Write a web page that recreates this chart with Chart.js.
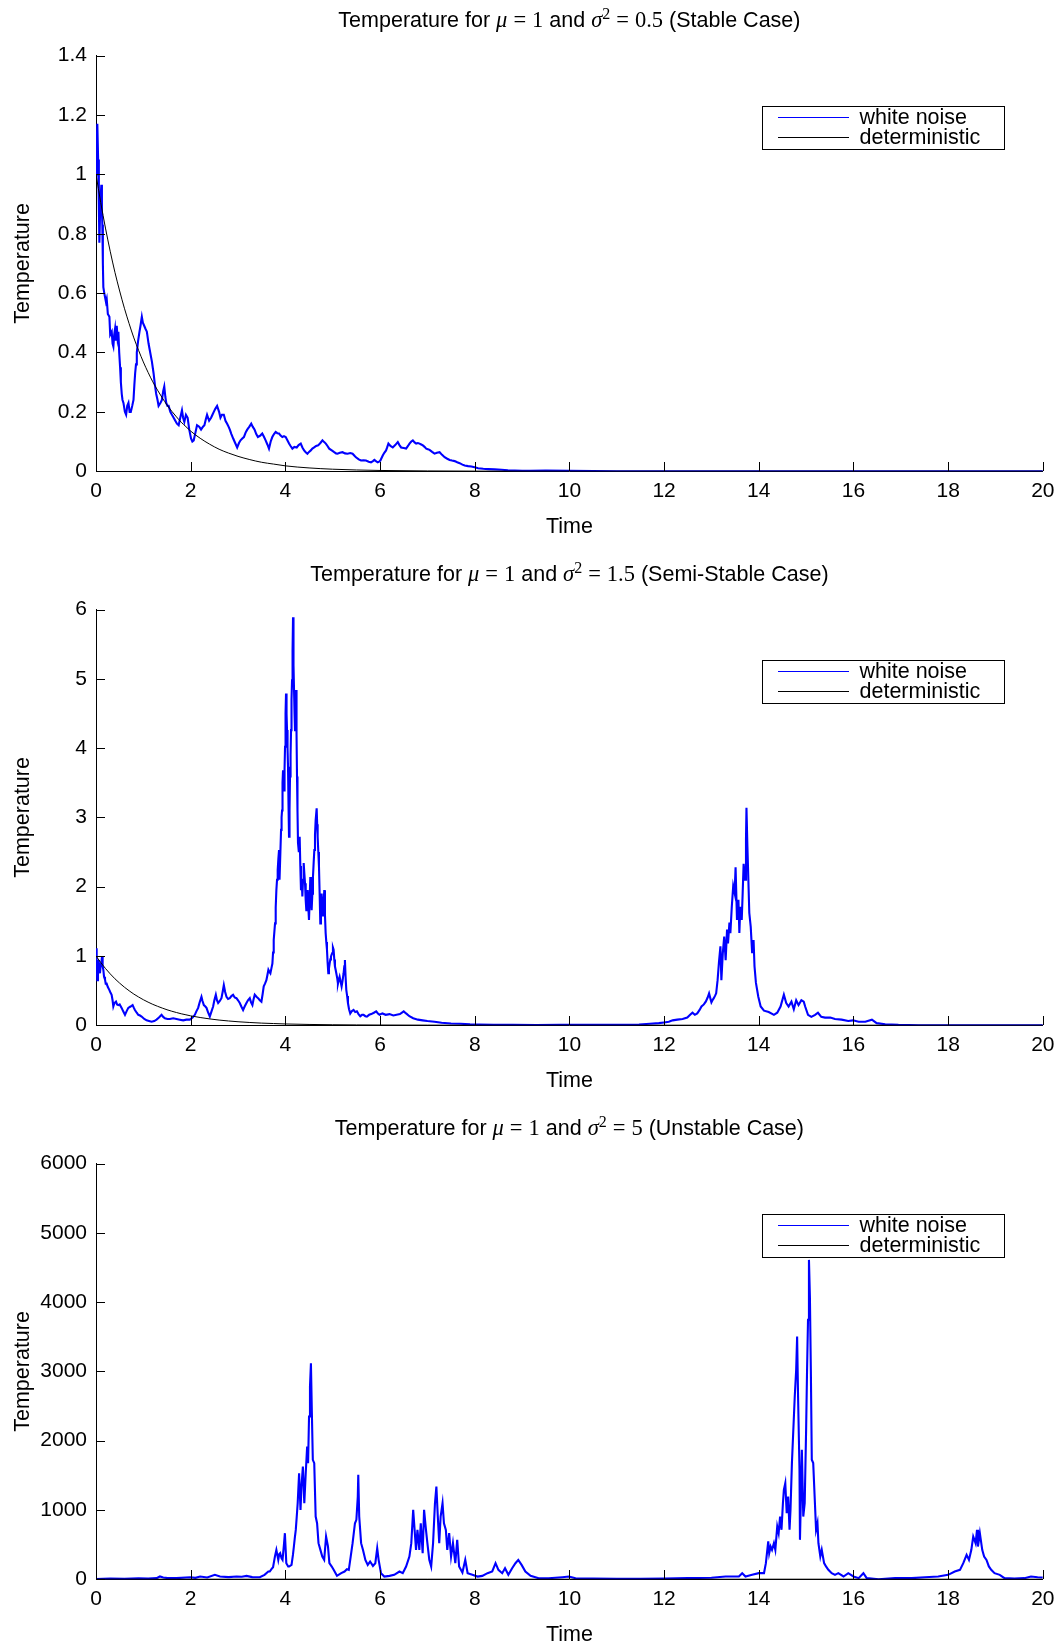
<!DOCTYPE html>
<html>
<head>
<meta charset="utf-8">
<script src="https://cdn.jsdelivr.net/npm/chart.js@4.4.1/dist/chart.umd.min.js"></script>
<style>
  html, body { margin: 0; padding: 0; background: #fff; }
  #page { position: relative; width: 1062px; height: 1645px; overflow: hidden; background: #fff; }
  .panel { position: absolute; left: 0; width: 1062px; height: 554px; }
  .panel canvas { display: block; }
</style>
</head>
<body>
<div id="page">
  <div class="panel" style="top:0px"><canvas id="stable" width="1062" height="554"></canvas></div>
  <div class="panel" style="top:554px"><canvas id="semi" width="1062" height="554"></canvas></div>
  <div class="panel" style="top:1108px"><canvas id="unstable" width="1062" height="554"></canvas></div>
</div>
<script>
// Shared axis ticks
const xTicks = [0, 2, 4, 6, 8, 10, 12, 14, 16, 18, 20];
const yTicksStable = [0, 0.2, 0.4, 0.6, 0.8, 1, 1.2, 1.4];
const yTicksSemi = [0, 1, 2, 3, 4, 5, 6];
const yTicksUnstable = [0, 1000, 2000, 3000, 4000, 5000, 6000];

const seriesLabels = ['white noise', 'deterministic'];
const xAxisLabel = 'Time';
const yAxisLabel = 'Temperature';

// Deterministic solution (same for all three panels)
const detTime = [0, 0.1, 0.2, 0.3, 0.4, 0.5, 0.6, 0.7, 0.8, 0.9, 1.0, 1.1, 1.2, 1.3, 1.4, 1.5, 1.6, 1.7, 1.8, 1.9,
  2.0, 2.2, 2.4, 2.6, 2.8, 3.0, 3.25, 3.5, 3.75, 4.0, 4.5, 5.0, 5.5, 6.0, 7.0, 8.0, 10.0, 20.0];
const detTemp = [1, 0.905, 0.819, 0.741, 0.670, 0.607, 0.549, 0.497, 0.449, 0.407, 0.368, 0.333, 0.301, 0.273, 0.247, 0.223, 0.202, 0.183, 0.165, 0.150,
  0.135, 0.111, 0.091, 0.074, 0.061, 0.050, 0.039, 0.030, 0.024, 0.018, 0.011, 0.0067, 0.0041, 0.0025, 0.0009, 0.0003, 0.00005, 0];

// Stable case, sigma^2 = 0.5
const stableTime = [0, 0.015, 0.028, 0.045, 0.06, 0.071, 0.09, 0.113, 0.125, 0.134, 0.145, 0.155, 0.175, 0.19, 0.21, 0.226, 0.25, 0.283, 0.3, 0.332,
  0.35, 0.367, 0.385, 0.403, 0.42, 0.438, 0.455, 0.473, 0.49, 0.509, 0.525, 0.544, 0.56, 0.58, 0.61, 0.636, 0.66, 0.686, 0.71, 0.735,
  0.765, 0.792, 0.81, 0.827, 0.845, 0.862, 0.89, 0.919, 0.94, 0.968, 0.99, 1.018, 1.045, 1.074, 1.11, 1.145, 1.18, 1.216, 1.245, 1.272,
  1.3, 1.322, 1.36, 1.392, 1.42, 1.442, 1.465, 1.484, 1.51, 1.534, 1.57, 1.604, 1.64, 1.675, 1.71, 1.746, 1.78, 1.816, 1.84, 1.866,
  1.9, 1.936, 1.97, 2.007, 2.035, 2.064, 2.1, 2.134, 2.18, 2.219, 2.26, 2.29, 2.32, 2.346, 2.39, 2.431, 2.46, 2.488, 2.52, 2.558,
  2.6, 2.629, 2.66, 2.7, 2.735, 2.77, 2.8, 2.827, 2.86, 2.898, 2.94, 2.982, 3.02, 3.053, 3.09, 3.124, 3.16, 3.194, 3.24, 3.279,
  3.31, 3.35, 3.385, 3.42, 3.47, 3.512, 3.55, 3.583, 3.62, 3.654, 3.69, 3.724, 3.76, 3.795, 3.83, 3.866, 3.9, 3.936, 3.97, 4.007,
  4.04, 4.078, 4.11, 4.148, 4.19, 4.24, 4.28, 4.325, 4.36, 4.396, 4.43, 4.466, 4.5, 4.537, 4.57, 4.608, 4.65, 4.693, 4.74, 4.784,
  4.82, 4.855, 4.89, 4.926, 4.98, 5.032, 5.07, 5.102, 5.15, 5.208, 5.26, 5.314, 5.37, 5.42, 5.46, 5.491, 5.55, 5.597, 5.65, 5.703,
  5.76, 5.809, 5.85, 5.88, 5.92, 5.951, 5.98, 6.007, 6.057, 6.09, 6.127, 6.15, 6.177, 6.22, 6.269, 6.32, 6.375, 6.41, 6.445, 6.5,
  6.551, 6.59, 6.622, 6.66, 6.693, 6.73, 6.763, 6.8, 6.834, 6.87, 6.905, 6.94, 6.975, 7.01, 7.046, 7.1, 7.152, 7.2, 7.258, 7.31,
  7.364, 7.42, 7.47, 7.52, 7.576, 7.63, 7.682, 7.74, 7.788, 7.86, 7.929, 8.0, 8.071, 8.18, 8.283, 8.42, 8.565, 8.7, 8.848, 9.0,
  9.166, 9.5, 10.0, 10.5, 11.0, 20];
const stableTemp = [1.0, 1.1, 1.17, 1.05, 0.9, 0.77, 0.9, 0.965, 0.88, 0.83, 0.7, 0.62, 0.6, 0.6, 0.57, 0.58, 0.53, 0.52, 0.46, 0.47,
  0.43, 0.42, 0.46, 0.48, 0.44, 0.49, 0.45, 0.47, 0.4, 0.35, 0.3, 0.26, 0.24, 0.23, 0.2, 0.19, 0.22, 0.23, 0.2, 0.2,
  0.22, 0.24, 0.29, 0.33, 0.36, 0.4, 0.44, 0.47, 0.49, 0.52, 0.5, 0.49, 0.48, 0.47, 0.43, 0.4, 0.37, 0.33, 0.29, 0.26,
  0.24, 0.22, 0.23, 0.24, 0.27, 0.285, 0.25, 0.23, 0.22, 0.22, 0.2, 0.19, 0.18, 0.17, 0.16, 0.155, 0.18, 0.205, 0.18, 0.166,
  0.19, 0.18, 0.14, 0.11, 0.1, 0.104, 0.13, 0.155, 0.15, 0.14, 0.15, 0.155, 0.175, 0.19, 0.17, 0.18, 0.19, 0.2, 0.21, 0.22,
  0.2, 0.18, 0.19, 0.19, 0.17, 0.16, 0.15, 0.14, 0.125, 0.11, 0.095, 0.08, 0.095, 0.104, 0.11, 0.115, 0.13, 0.14, 0.15, 0.16,
  0.15, 0.14, 0.125, 0.115, 0.12, 0.127, 0.115, 0.104, 0.09, 0.076, 0.1, 0.115, 0.125, 0.132, 0.128, 0.127, 0.12, 0.115, 0.118, 0.115,
  0.105, 0.093, 0.085, 0.076, 0.082, 0.08, 0.088, 0.093, 0.08, 0.07, 0.064, 0.059, 0.065, 0.07, 0.076, 0.08, 0.085, 0.087, 0.095, 0.104,
  0.098, 0.093, 0.085, 0.076, 0.07, 0.064, 0.06, 0.059, 0.062, 0.064, 0.06, 0.059, 0.061, 0.059, 0.052, 0.047, 0.04, 0.036, 0.037, 0.036,
  0.032, 0.03, 0.034, 0.038, 0.033, 0.03, 0.032, 0.036, 0.053, 0.062, 0.07, 0.08, 0.093, 0.085, 0.08, 0.088, 0.098, 0.088, 0.08, 0.078,
  0.076, 0.085, 0.093, 0.1, 0.104, 0.097, 0.093, 0.095, 0.093, 0.09, 0.087, 0.082, 0.076, 0.074, 0.072, 0.065, 0.059, 0.062, 0.064, 0.055,
  0.047, 0.042, 0.038, 0.036, 0.034, 0.03, 0.027, 0.022, 0.019, 0.017, 0.016, 0.013, 0.01, 0.008, 0.007, 0.006, 0.005, 0.003, 0.002, 0.0015,
  0.001, 0.002, 0.001, 0.0005, 0, 0];

// Semi-stable case, sigma^2 = 1.5
const semiTime = [0, 0.014, 0.028, 0.042, 0.056, 0.07, 0.084, 0.1, 0.113, 0.127, 0.14, 0.155, 0.17, 0.19, 0.205, 0.225, 0.25, 0.281, 0.3, 0.33,
  0.35, 0.366, 0.39, 0.422, 0.445, 0.471, 0.5, 0.541, 0.575, 0.612, 0.645, 0.682, 0.73, 0.773, 0.8, 0.822, 0.86, 0.893, 0.93, 0.963,
  1.02, 1.069, 1.12, 1.174, 1.23, 1.279, 1.33, 1.385, 1.42, 1.455, 1.51, 1.561, 1.63, 1.701, 1.77, 1.842, 1.91, 1.982, 2.04, 2.088,
  2.12, 2.158, 2.19, 2.228, 2.25, 2.278, 2.31, 2.334, 2.37, 2.404, 2.44, 2.474, 2.5, 2.531, 2.555, 2.58, 2.615, 2.65, 2.675, 2.7,
  2.728, 2.756, 2.79, 2.826, 2.86, 2.896, 2.93, 2.967, 3.0, 3.037, 3.07, 3.107, 3.14, 3.178, 3.21, 3.248, 3.275, 3.304, 3.33, 3.353,
  3.39, 3.424, 3.46, 3.494, 3.52, 3.543, 3.57, 3.599, 3.62, 3.642, 3.665, 3.684, 3.705, 3.726, 3.74, 3.754, 3.768, 3.782, 3.796, 3.81,
  3.824, 3.838, 3.852, 3.866, 3.873, 3.88, 3.895, 3.909, 3.92, 3.93, 3.94, 3.951, 3.962, 3.972, 3.983, 3.993, 4.004, 4.014, 4.025, 4.035,
  4.046, 4.056, 4.066, 4.077, 4.088, 4.098, 4.11, 4.12, 4.13, 4.141, 4.152, 4.162, 4.172, 4.183, 4.194, 4.204, 4.215, 4.225, 4.236, 4.246,
  4.256, 4.267, 4.285, 4.302, 4.316, 4.33, 4.345, 4.359, 4.373, 4.387, 4.4, 4.415, 4.43, 4.443, 4.457, 4.471, 4.485, 4.499, 4.513, 4.527,
  4.541, 4.555, 4.57, 4.583, 4.598, 4.612, 4.626, 4.64, 4.661, 4.672, 4.682, 4.696, 4.71, 4.724, 4.738, 4.752, 4.766, 4.78, 4.794, 4.808,
  4.822, 4.836, 4.851, 4.865, 4.879, 4.893, 4.907, 4.921, 4.935, 4.95, 4.963, 4.977, 4.991, 5.005, 5.019, 5.033, 5.047, 5.062, 5.076, 5.095,
  5.111, 5.13, 5.146, 5.17, 5.188, 5.21, 5.23, 5.245, 5.258, 5.272, 5.287, 5.305, 5.322, 5.345, 5.371, 5.4, 5.441, 5.475, 5.511, 5.545,
  5.582, 5.62, 5.652, 5.69, 5.722, 5.77, 5.814, 5.87, 5.919, 5.955, 5.989, 6.05, 6.12, 6.2, 6.28, 6.35, 6.42, 6.5, 6.55, 6.62,
  6.7, 6.8, 6.9, 7.0, 7.15, 7.3, 7.5, 7.7, 7.9, 8.1, 8.4, 8.8, 9.3, 9.8, 10.2, 10.7, 11.2, 11.47, 11.7, 11.89,
  12.0, 12.1, 12.18, 12.28, 12.39, 12.49, 12.55, 12.6, 12.65, 12.7, 12.75, 12.79, 12.84, 12.88, 12.92, 12.95, 12.98, 13.0, 13.03, 13.05,
  13.08, 13.1, 13.13, 13.16, 13.19, 13.21, 13.24, 13.27, 13.3, 13.33, 13.35, 13.38, 13.4, 13.43, 13.46, 13.49, 13.51, 13.54, 13.57, 13.59,
  13.61, 13.64, 13.66, 13.68, 13.71, 13.73, 13.74, 13.76, 13.78, 13.8, 13.83, 13.86, 13.89, 13.91, 13.94, 13.99, 14.04, 14.11, 14.21, 14.32,
  14.39, 14.46, 14.53, 14.58, 14.63, 14.69, 14.74, 14.79, 14.84, 14.9, 14.95, 14.98, 15.04, 15.11, 15.19, 15.25, 15.32, 15.4, 15.51, 15.61,
  15.75, 15.89, 15.99, 16.11, 16.25, 16.39, 16.49, 16.67, 16.95, 17.37, 20];
const semiTemp = [1.11, 0.85, 0.65, 0.8, 0.94, 0.82, 0.75, 0.88, 0.9, 0.99, 0.85, 0.8, 0.7, 0.66, 0.6, 0.6, 0.55, 0.51, 0.48, 0.44,
  0.36, 0.27, 0.32, 0.34, 0.3, 0.29, 0.3, 0.25, 0.2, 0.15, 0.2, 0.25, 0.27, 0.29, 0.25, 0.22, 0.18, 0.15, 0.14, 0.125,
  0.09, 0.07, 0.06, 0.05, 0.06, 0.08, 0.11, 0.15, 0.12, 0.1, 0.09, 0.09, 0.1, 0.09, 0.08, 0.07, 0.08, 0.08, 0.11, 0.15,
  0.2, 0.25, 0.33, 0.41, 0.35, 0.29, 0.27, 0.25, 0.18, 0.125, 0.2, 0.27, 0.36, 0.44, 0.36, 0.32, 0.35, 0.39, 0.48, 0.58,
  0.48, 0.41, 0.38, 0.39, 0.42, 0.44, 0.4, 0.39, 0.36, 0.32, 0.27, 0.22, 0.27, 0.32, 0.36, 0.39, 0.33, 0.29, 0.38, 0.44,
  0.41, 0.39, 0.36, 0.34, 0.45, 0.56, 0.6, 0.65, 0.72, 0.8, 0.77, 0.75, 0.82, 0.89, 1.05, 1.23, 1.35, 1.47, 1.7, 1.95,
  2.1, 2.24, 2.4, 2.53, 2.2, 2.1, 2.5, 2.82, 3.0, 3.1, 3.5, 3.68, 3.5, 3.39, 3.7, 4.02, 4.5, 4.79, 4.5, 4.26,
  4.0, 3.73, 3.2, 2.72, 3.1, 3.59, 3.9, 4.26, 4.7, 4.98, 5.4, 5.89, 5.2, 4.84, 4.5, 4.26, 4.6, 4.84, 4.2, 3.59,
  3.1, 2.63, 2.5, 2.72, 2.3, 1.95, 2.1, 1.86, 2.1, 2.34, 2.2, 2.05, 1.8, 1.66, 1.8, 1.95, 1.7, 1.52, 1.8, 2.14,
  1.9, 1.66, 1.9, 2.14, 2.35, 2.53, 2.75, 2.96, 3.13, 2.9, 2.72, 2.5, 2.29, 1.9, 1.47, 1.7, 1.9, 1.7, 1.57, 1.75,
  1.95, 1.6, 1.33, 1.2, 1.09, 0.9, 0.75, 0.82, 0.89, 0.95, 0.99, 1.02, 1.04, 1.12, 1.09, 0.95, 0.85, 0.8, 0.75, 0.68,
  0.6, 0.66, 0.7, 0.62, 0.56, 0.65, 0.75, 0.85, 0.94, 0.7, 0.51, 0.42, 0.32, 0.23, 0.17, 0.2, 0.22, 0.19, 0.2, 0.16,
  0.13, 0.15, 0.15, 0.13, 0.125, 0.15, 0.16, 0.18, 0.2, 0.17, 0.15, 0.17, 0.15, 0.16, 0.14, 0.15, 0.16, 0.2, 0.17, 0.13,
  0.1, 0.08, 0.07, 0.06, 0.05, 0.035, 0.025, 0.02, 0.012, 0.008, 0.005, 0.004, 0.003, 0.006, 0.004, 0.005, 0.005, 0.01, 0.02, 0.03,
  0.04, 0.05, 0.07, 0.08, 0.09, 0.11, 0.15, 0.18, 0.15, 0.17, 0.22, 0.27, 0.3, 0.34, 0.4, 0.46, 0.38, 0.33, 0.37, 0.39,
  0.43, 0.46, 0.65, 0.92, 1.14, 0.65, 1.04, 1.28, 0.94, 1.38, 1.18, 1.48, 1.33, 1.71, 2.01, 1.91, 2.28, 1.52, 1.81, 1.33,
  1.71, 1.52, 1.91, 2.33, 2.1, 2.68, 3.14, 2.58, 2.1, 1.62, 1.42, 1.04, 1.23, 0.85, 0.61, 0.41, 0.27, 0.21, 0.19, 0.15,
  0.18, 0.27, 0.44, 0.32, 0.27, 0.34, 0.23, 0.36, 0.29, 0.36, 0.34, 0.27, 0.15, 0.12, 0.15, 0.18, 0.12, 0.11, 0.11, 0.09,
  0.08, 0.06, 0.07, 0.05, 0.05, 0.08, 0.03, 0.014, 0.005, 0, 0];

// Unstable case, sigma^2 = 5
const unstableTime = [0, 0.3, 0.6, 0.9, 1.1, 1.28, 1.35, 1.42, 1.49, 1.7, 1.99, 2.1, 2.2, 2.35, 2.51, 2.62, 2.8, 2.97, 3.08, 3.18,
  3.3, 3.46, 3.56, 3.64, 3.67, 3.71, 3.74, 3.78, 3.81, 3.85, 3.87, 3.89, 3.92, 3.94, 3.97, 3.99, 4.02, 4.06, 4.08, 4.13,
  4.16, 4.18, 4.2, 4.22, 4.24, 4.26, 4.29, 4.32, 4.34, 4.37, 4.4, 4.43, 4.46, 4.48, 4.5, 4.52, 4.54, 4.56, 4.58, 4.61,
  4.64, 4.67, 4.7, 4.74, 4.78, 4.82, 4.86, 4.9, 4.93, 4.98, 5.02, 5.09, 5.18, 5.25, 5.3, 5.34, 5.38, 5.42, 5.47, 5.5,
  5.53, 5.54, 5.56, 5.6, 5.64, 5.69, 5.74, 5.79, 5.85, 5.9, 5.94, 5.97, 6.02, 6.09, 6.2, 6.3, 6.41, 6.48, 6.55, 6.62,
  6.66, 6.7, 6.73, 6.76, 6.79, 6.83, 6.86, 6.9, 6.93, 6.97, 7.0, 7.04, 7.08, 7.12, 7.16, 7.19, 7.22, 7.25, 7.28, 7.32,
  7.35, 7.39, 7.42, 7.46, 7.5, 7.54, 7.59, 7.63, 7.67, 7.74, 7.8, 7.85, 7.95, 8.06, 8.16, 8.27, 8.37, 8.44, 8.5, 8.58,
  8.64, 8.71, 8.79, 8.86, 8.92, 8.99, 9.07, 9.18, 9.35, 9.56, 9.85, 9.99, 10.13, 10.5, 11.0, 11.5, 12.0, 12.5, 13.0, 13.3,
  13.58, 13.65, 13.72, 13.86, 14.0, 14.11, 14.15, 14.2, 14.22, 14.25, 14.28, 14.32, 14.35, 14.39, 14.42, 14.45, 14.48, 14.51, 14.53, 14.56,
  14.59, 14.62, 14.65, 14.67, 14.7, 14.73, 14.76, 14.79, 14.81, 14.83, 14.86, 14.87, 14.89, 14.91, 14.94, 14.97, 15.0, 15.02, 15.04, 15.06,
  15.08, 15.1, 15.12, 15.15, 15.18, 15.21, 15.24, 15.26, 15.3, 15.33, 15.38, 15.42, 15.47, 15.54, 15.61, 15.68, 15.79, 15.89, 16.0, 16.11,
  16.21, 16.28, 16.53, 16.88, 17.23, 17.51, 17.79, 18.0, 18.14, 18.25, 18.32, 18.39, 18.44, 18.49, 18.53, 18.58, 18.61, 18.63, 18.67, 18.72,
  18.76, 18.81, 18.86, 18.91, 18.98, 19.09, 19.19, 19.4, 19.61, 19.75, 19.89, 20];
const unstableTemp = [1, 8, 5, 12, 8, 15, 39, 25, 19, 15, 29, 20, 39, 25, 63, 39, 30, 39, 35, 48,
  30, 29, 63, 111, 111, 150, 173, 330, 423, 279, 360, 375, 300, 279, 500, 664, 231, 184, 183, 207,
  350, 472, 600, 712, 900, 1097, 1530, 1001, 1338, 1626, 1097, 1530, 1915, 1675, 2348, 2781, 3118, 2396, 1723, 1675,
  905, 808, 520, 423, 327, 279, 616, 472, 231, 183, 135, 48, 87, 111, 144, 135, 327, 520, 808, 857,
  1193, 1506, 905, 520, 423, 279, 207, 255, 192, 231, 447, 279, 87, 38, 48, 63, 111, 87, 183, 327,
  520, 1001, 712, 423, 712, 423, 808, 375, 1001, 712, 520, 279, 183, 520, 1097, 1338, 905, 520, 905, 1097,
  808, 712, 423, 664, 327, 520, 231, 568, 183, 96, 279, 87, 63, 38, 48, 87, 111, 231, 135, 87,
  159, 63, 159, 231, 279, 207, 111, 48, 14, 14, 29, 38, 14, 10, 5, 5, 10, 15, 20, 40,
  39, 87, 39, 63, 87, 87, 232, 545, 376, 472, 424, 520, 424, 761, 665, 905, 713, 1097, 1290, 1386,
  953, 1194, 713, 1001, 1676, 2157, 2638, 3023, 3504, 2638, 1580, 568, 1194, 1868, 905, 1097, 2157, 3023, 3744, 4610,
  4081, 3023, 1724, 1676, 1194, 713, 809, 520, 328, 424, 232, 184, 135, 87, 63, 87, 39, 87, 39, 15,
  87, 15, 0, 15, 15, 29, 39, 63, 111, 135, 232, 352, 279, 424, 616, 520, 713, 472, 665, 424,
  328, 279, 184, 135, 87, 63, 15, 10, 15, 39, 29, 25];

// Title pieces: [text, style, extra space before, extra space after]
const titleStable = [
  ['Temperature for ', 'sans'], ['\u03bc', 'mathit'], ['=', 'math', 6, 6], ['1', 'math'], [' and ', 'sans'],
  ['\u03c3', 'mathit'], ['2', 'sup'], ['=', 'math', 6, 6], ['0.5', 'math'], [' (Stable Case)', 'sans']];
const titleSemi = [
  ['Temperature for ', 'sans'], ['\u03bc', 'mathit'], ['=', 'math', 6, 6], ['1', 'math'], [' and ', 'sans'],
  ['\u03c3', 'mathit'], ['2', 'sup'], ['=', 'math', 6, 6], ['1.5', 'math'], [' (Semi-Stable Case)', 'sans']];
const titleUnstable = [
  ['Temperature for ', 'sans'], ['\u03bc', 'mathit'], ['=', 'math', 6, 6], ['1', 'math'], [' and ', 'sans'],
  ['\u03c3', 'mathit'], ['2', 'sup'], ['=', 'math', 6, 6], ['5', 'math'], [' (Unstable Case)', 'sans']];

const SANS = '"Liberation Sans", Arial, Helvetica, sans-serif';
const SERIF = '"Liberation Serif", "DejaVu Serif", serif';
const TICK_SIZE = 21;
const LABEL_SIZE = 21.5;
const fontStyles = {
  sans: LABEL_SIZE + 'px ' + SANS,
  mathit: 'italic 22.5px ' + SERIF,
  math: '22.5px ' + SERIF,
  sup: '16px ' + SERIF
};

// Title made of mixed-font pieces, centred over the plot area
const mathTitle = {
  id: 'mathTitle',
  afterDraw(chart, args, opts) {
    const ctx = chart.ctx;
    const pieces = opts.pieces || [];
    ctx.save();
    let total = 0;
    const widths = pieces.map(p => {
      ctx.font = fontStyles[p[1]];
      const w = ctx.measureText(p[0]).width + (p[2] || 0) + (p[3] || 0);
      total += w;
      return w;
    });
    const ca = chart.chartArea;
    let x = (ca.left + ca.right) / 2 - total / 2;
    ctx.fillStyle = '#000';
    ctx.textAlign = 'left';
    ctx.textBaseline = 'alphabetic';
    pieces.forEach((p, i) => {
      ctx.font = fontStyles[p[1]];
      ctx.fillText(p[0], x + (p[2] || 0), opts.baseline - (p[1] === 'sup' ? 8.5 : 0));
      x += widths[i];
    });
    ctx.restore();
  }
};

// Tick marks drawn inward from the left and bottom axes
const inwardTicks = {
  id: 'inwardTicks',
  afterDatasetsDraw(chart, args, opts) {
    const { ctx, chartArea: ca } = chart;
    const xs = chart.scales.x, ys = chart.scales.y;
    const len = opts.length || 9;
    ctx.save();
    ctx.strokeStyle = '#000';
    ctx.lineWidth = 1;
    ctx.beginPath();
    const bottom = Math.round(ca.bottom);
    const left = Math.round(ca.left);
    xs.ticks.forEach(t => {
      const px = Math.round(xs.getPixelForValue(t.value)) + 0.5;
      ctx.moveTo(px, bottom);
      ctx.lineTo(px, bottom - len);
    });
    ys.ticks.forEach(t => {
      const py = Math.round(ys.getPixelForValue(t.value)) + 0.5;
      ctx.moveTo(left, py);
      ctx.lineTo(left + len, py);
    });
    ctx.stroke();
    ctx.restore();
  }
};

// Boxed legend in the upper right of the plot
const boxLegend = {
  id: 'boxLegend',
  afterDraw(chart, args, opts) {
    const { ctx, chartArea: ca } = chart;
    const right = Math.round(ca.right - opts.offsetRight);
    const top = Math.round(ca.top + opts.offsetTop);
    const left = right - opts.width;
    ctx.save();
    ctx.fillStyle = '#fff';
    ctx.fillRect(left, top, opts.width, opts.height);
    ctx.strokeStyle = '#000';
    ctx.lineWidth = 1;
    ctx.strokeRect(left + 0.5, top + 0.5, opts.width, opts.height);
    chart.data.datasets.forEach((ds, i) => {
      const yy = top + opts.firstRow + i * opts.rowGap;
      ctx.strokeStyle = ds.borderColor;
      ctx.lineWidth = 1;
      ctx.beginPath();
      ctx.moveTo(left + opts.lineStart, yy);
      ctx.lineTo(left + opts.lineEnd, yy);
      ctx.stroke();
      ctx.fillStyle = '#000';
      ctx.font = fontStyles.sans;
      ctx.textAlign = 'left';
      ctx.textBaseline = 'middle';
      ctx.fillText(ds.label, left + opts.textStart, yy + 1);
    });
    ctx.restore();
  }
};

Chart.register(mathTitle, inwardTicks, boxLegend);

const tickFont = { family: SANS, size: TICK_SIZE };
const labelFont = { family: SANS, size: LABEL_SIZE };

function toPoints(times, temps) {
  return times.map((t, i) => ({ x: t, y: temps[i] }));
}

function buildChart(id, noiseTime, noiseTemp, yTicks, titlePieces) {
  return new Chart(document.getElementById(id), {
    type: 'line',
    data: {
      datasets: [
        {
          label: seriesLabels[0],
          data: toPoints(noiseTime, noiseTemp),
          borderColor: '#0000ff',
          borderWidth: 2.1,
          pointRadius: 0,
          tension: 0,
          order: 1
        },
        {
          label: seriesLabels[1],
          data: toPoints(detTime, detTemp),
          borderColor: '#000000',
          borderWidth: 1,
          pointRadius: 0,
          cubicInterpolationMode: 'monotone',
          order: 0
        }
      ]
    },
    options: {
      responsive: false,
      animation: false,
      events: [],
      layout: { padding: { top: 55.6, right: 18, bottom: 0, left: 0 } },
      plugins: {
        legend: { display: false },
        tooltip: { enabled: false },
        title: { display: false },
        mathTitle: { pieces: titlePieces, baseline: 27 },
        inwardTicks: { length: 9 },
        boxLegend: {
          offsetRight: 39, offsetTop: 50.4, width: 242, height: 43,
          firstRow: 11.5, rowGap: 20, lineStart: 16, lineEnd: 87, textStart: 97.5
        }
      },
      scales: {
        x: {
          type: 'linear',
          min: xTicks[0],
          max: xTicks[xTicks.length - 1],
          afterFit: s => { s.height = 82.8; },
          afterBuildTicks: s => { s.ticks = xTicks.map(v => ({ value: v })); },
          grid: { display: false, drawTicks: false },
          border: { display: true, color: '#000', width: 1 },
          ticks: {
            color: '#000', font: tickFont, padding: 7.5,
            maxRotation: 0, autoSkip: false,
            callback: v => String(v)
          },
          title: {
            display: true, text: xAxisLabel, color: '#000', font: labelFont,
            padding: { top: 0, bottom: 14.2 }
          }
        },
        y: {
          type: 'linear',
          min: yTicks[0],
          max: yTicks[yTicks.length - 1],
          afterFit: s => { s.width = 96; },
          afterBuildTicks: s => { s.ticks = yTicks.map(v => ({ value: v })); },
          grid: { display: false, drawTicks: false },
          border: { display: true, color: '#000', width: 1 },
          ticks: {
            color: '#000', font: tickFont, padding: 9,
            autoSkip: false,
            callback: v => String(v)
          },
          title: {
            display: true, text: yAxisLabel, color: '#000', font: labelFont,
            padding: { top: 9.7, bottom: 0 }
          }
        }
      }
    }
  });
}

buildChart('stable', stableTime, stableTemp, yTicksStable, titleStable);
buildChart('semi', semiTime, semiTemp, yTicksSemi, titleSemi);
buildChart('unstable', unstableTime, unstableTemp, yTicksUnstable, titleUnstable);
</script>
</body>
</html>
